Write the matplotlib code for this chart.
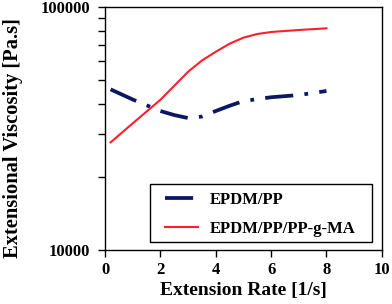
import matplotlib
matplotlib.use("Agg")
import matplotlib.pyplot as plt
from matplotlib.ticker import LogLocator, NullFormatter, FixedLocator
from matplotlib.patches import Rectangle

plt.rcParams['font.family'] = ['Liberation Serif', 'DejaVu Serif']
plt.rcParams['font.weight'] = 'bold'

x_blend = [0.2, 1, 2, 2.5, 3, 3.5, 4, 4.5, 5, 6, 7, 8]
epdm_pp = [45800, 41600, 37300, 35900, 34900, 35400, 37300, 39200, 41000, 42500, 43400, 45100]

x_comp = [0.2, 1, 2, 3, 3.5, 4, 4.5, 5, 5.5, 6, 7, 8]
epdm_pp_ma = [27700, 33200, 41500, 54100, 60200, 65400, 70600, 74800, 77400, 78900, 80400, 81700]

labels = ["EPDM/PP", "EPDM/PP/PP-g-MA"]
xticks = [0, 2, 4, 6, 8, 10]
yticks = [10000, 100000]

fig = plt.figure(figsize=(3.92, 3.04), dpi=100)
ax = fig.add_axes([0.268, 0.178, 0.706, 0.799])

ax.plot(x_blend, epdm_pp, color='#0b1760', lw=2.7, dashes=(7.5, 3.0, 1.0, 3.0),
        solid_capstyle='butt', dash_capstyle='butt', label=labels[0])
ax.plot(x_comp, epdm_pp_ma, color='#ff1f2a', lw=1.5, label=labels[1])

ax.set_yscale('log')
ax.set_xlim(0, 10)
ax.set_ylim(10000, 100000)
ax.set_xticks(xticks)
ax.set_xticklabels([str(t) for t in xticks])
ax.yaxis.set_major_locator(FixedLocator(yticks))
ax.set_yticklabels([str(t) for t in yticks])
ax.yaxis.set_minor_locator(LogLocator(base=10, subs=range(2, 10)))
ax.yaxis.set_minor_formatter(NullFormatter())

ax.tick_params(axis='both', which='both', direction='out', labelsize=12, width=1, colors='black')
ax.tick_params(axis='both', which='major', length=5)
ax.tick_params(axis='y', which='minor', length=5)
ax.tick_params(axis='y', which='major', pad=6)
for s in ax.spines.values():
    s.set_linewidth(1)

ax.set_xlabel("Extension Rate [1/s]", fontsize=14, fontweight='bold', labelpad=3)
ax.set_ylabel("Extensional Viscosity [Pa.s]", fontsize=14.8, fontweight='bold')
ax.yaxis.set_label_coords(-0.298, 0.46)

ax.add_patch(Rectangle((0.162, 0.033), 0.802, 0.239, transform=ax.transAxes,
                       fill=True, facecolor='white', edgecolor='black', lw=1, zorder=4))
leg = ax.legend(loc='center', bbox_to_anchor=(0.561, 0.146), fontsize=12, frameon=False,
                handlelength=1.95, borderpad=0, labelspacing=0.8, handletextpad=0.7)
leg.set_zorder(5)

fig.savefig("out.png", dpi=100)
